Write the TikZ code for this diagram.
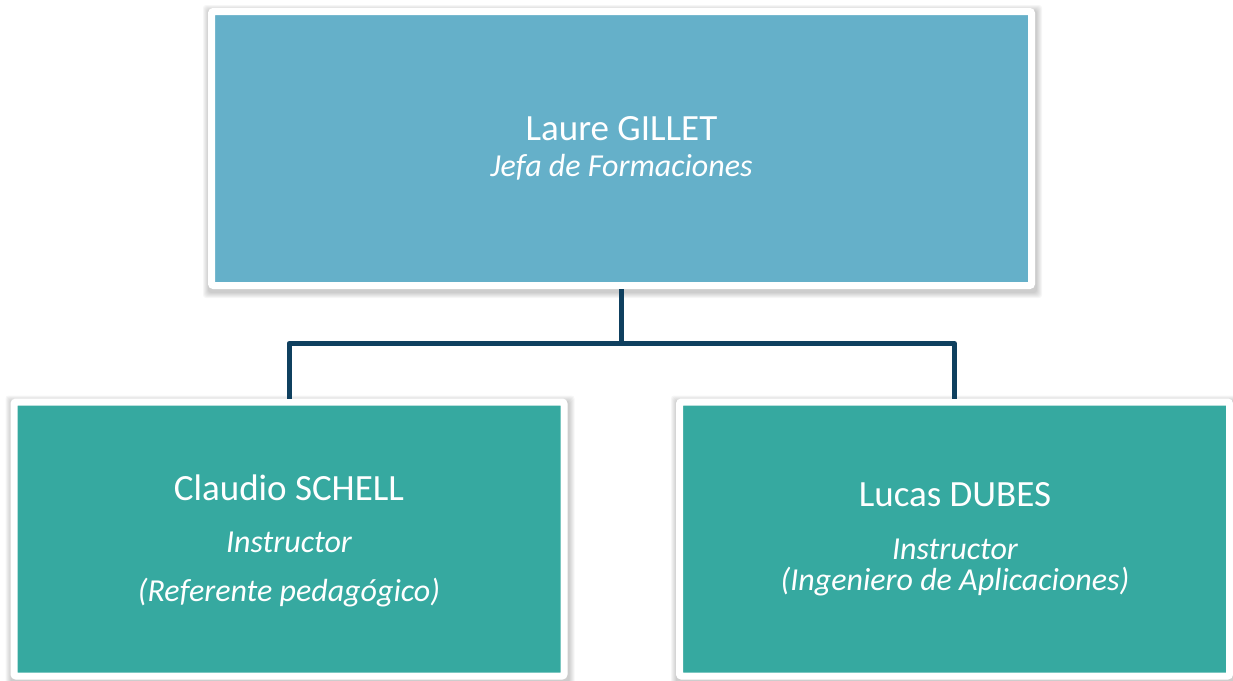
\documentclass[tikz,border=0pt]{standalone}
\usepackage{fontspec}
\setmainfont{Carlito}
\usetikzlibrary{backgrounds}
\definecolor{topblue}{HTML}{65B0C9}
\definecolor{teal2}{HTML}{36A9A0}
\definecolor{navy}{HTML}{0F405F}
\tikzset{
  box/.style={draw=white, line width=7pt, inner sep=0pt, outer sep=3.5pt,
    minimum width=550pt, minimum height=274pt, rounded corners=2pt},
  txt/.style={text=white, anchor=base, inner sep=0pt, font=\fontsize{37}{42}\selectfont},
  itxt/.style={txt, font=\fontsize{32}{38}\selectfont\itshape},
  conn/.style={draw=navy, line width=5pt, line join=round}
}
\begin{document}
\begin{tikzpicture}[x=1pt,y=-1pt]
\useasboundingbox (0,0) rectangle (1233,680);
% boxes
\node[box, fill=topblue, minimum width=820pt] (top) at (621.5,148.5) {};
\node[box, fill=teal2] (left) at (289,539) {};
\node[box, fill=teal2] (right) at (954.5,539) {};
% shadows
\begin{pgfonlayer}{background}
\foreach \n in {top,left,right}{
  \foreach \k in {1,...,6}{
    \fill[black, opacity=0.035, rounded corners=3pt]
      ([xshift=-\k pt+1pt, yshift=\k pt-3pt]\n.north west) rectangle
      ([xshift=\k pt+1pt, yshift=-\k pt-3pt]\n.south east);
  }
}
\end{pgfonlayer}
% texts
\node[txt] (t1) at (621.5,140) {Laure GILLET};
\node[itxt] (t2) at (621.5,176.7) {Jefa de Formaciones};
\node[txt] (l1) at (289,500) {Claudio SCHELL};
\node[itxt] (l2) at (289,552) {Instructor};
\node[itxt] (l3) at (289,601.5) {(Referente pedagógico)};
\node[txt] (r1) at (955,506) {Lucas DUBES};
\node[itxt] (r2) at (955,559) {Instructor};
\node[itxt] (r3) at (955,590.5) {(Ingeniero de Aplicaciones)};
% connectors
\coordinate (j) at (621.5,343.5);
\draw[conn] (top.south) -- (j);
\draw[conn] (left.north) |- (j) -| (right.north);
\end{tikzpicture}
\end{document}
